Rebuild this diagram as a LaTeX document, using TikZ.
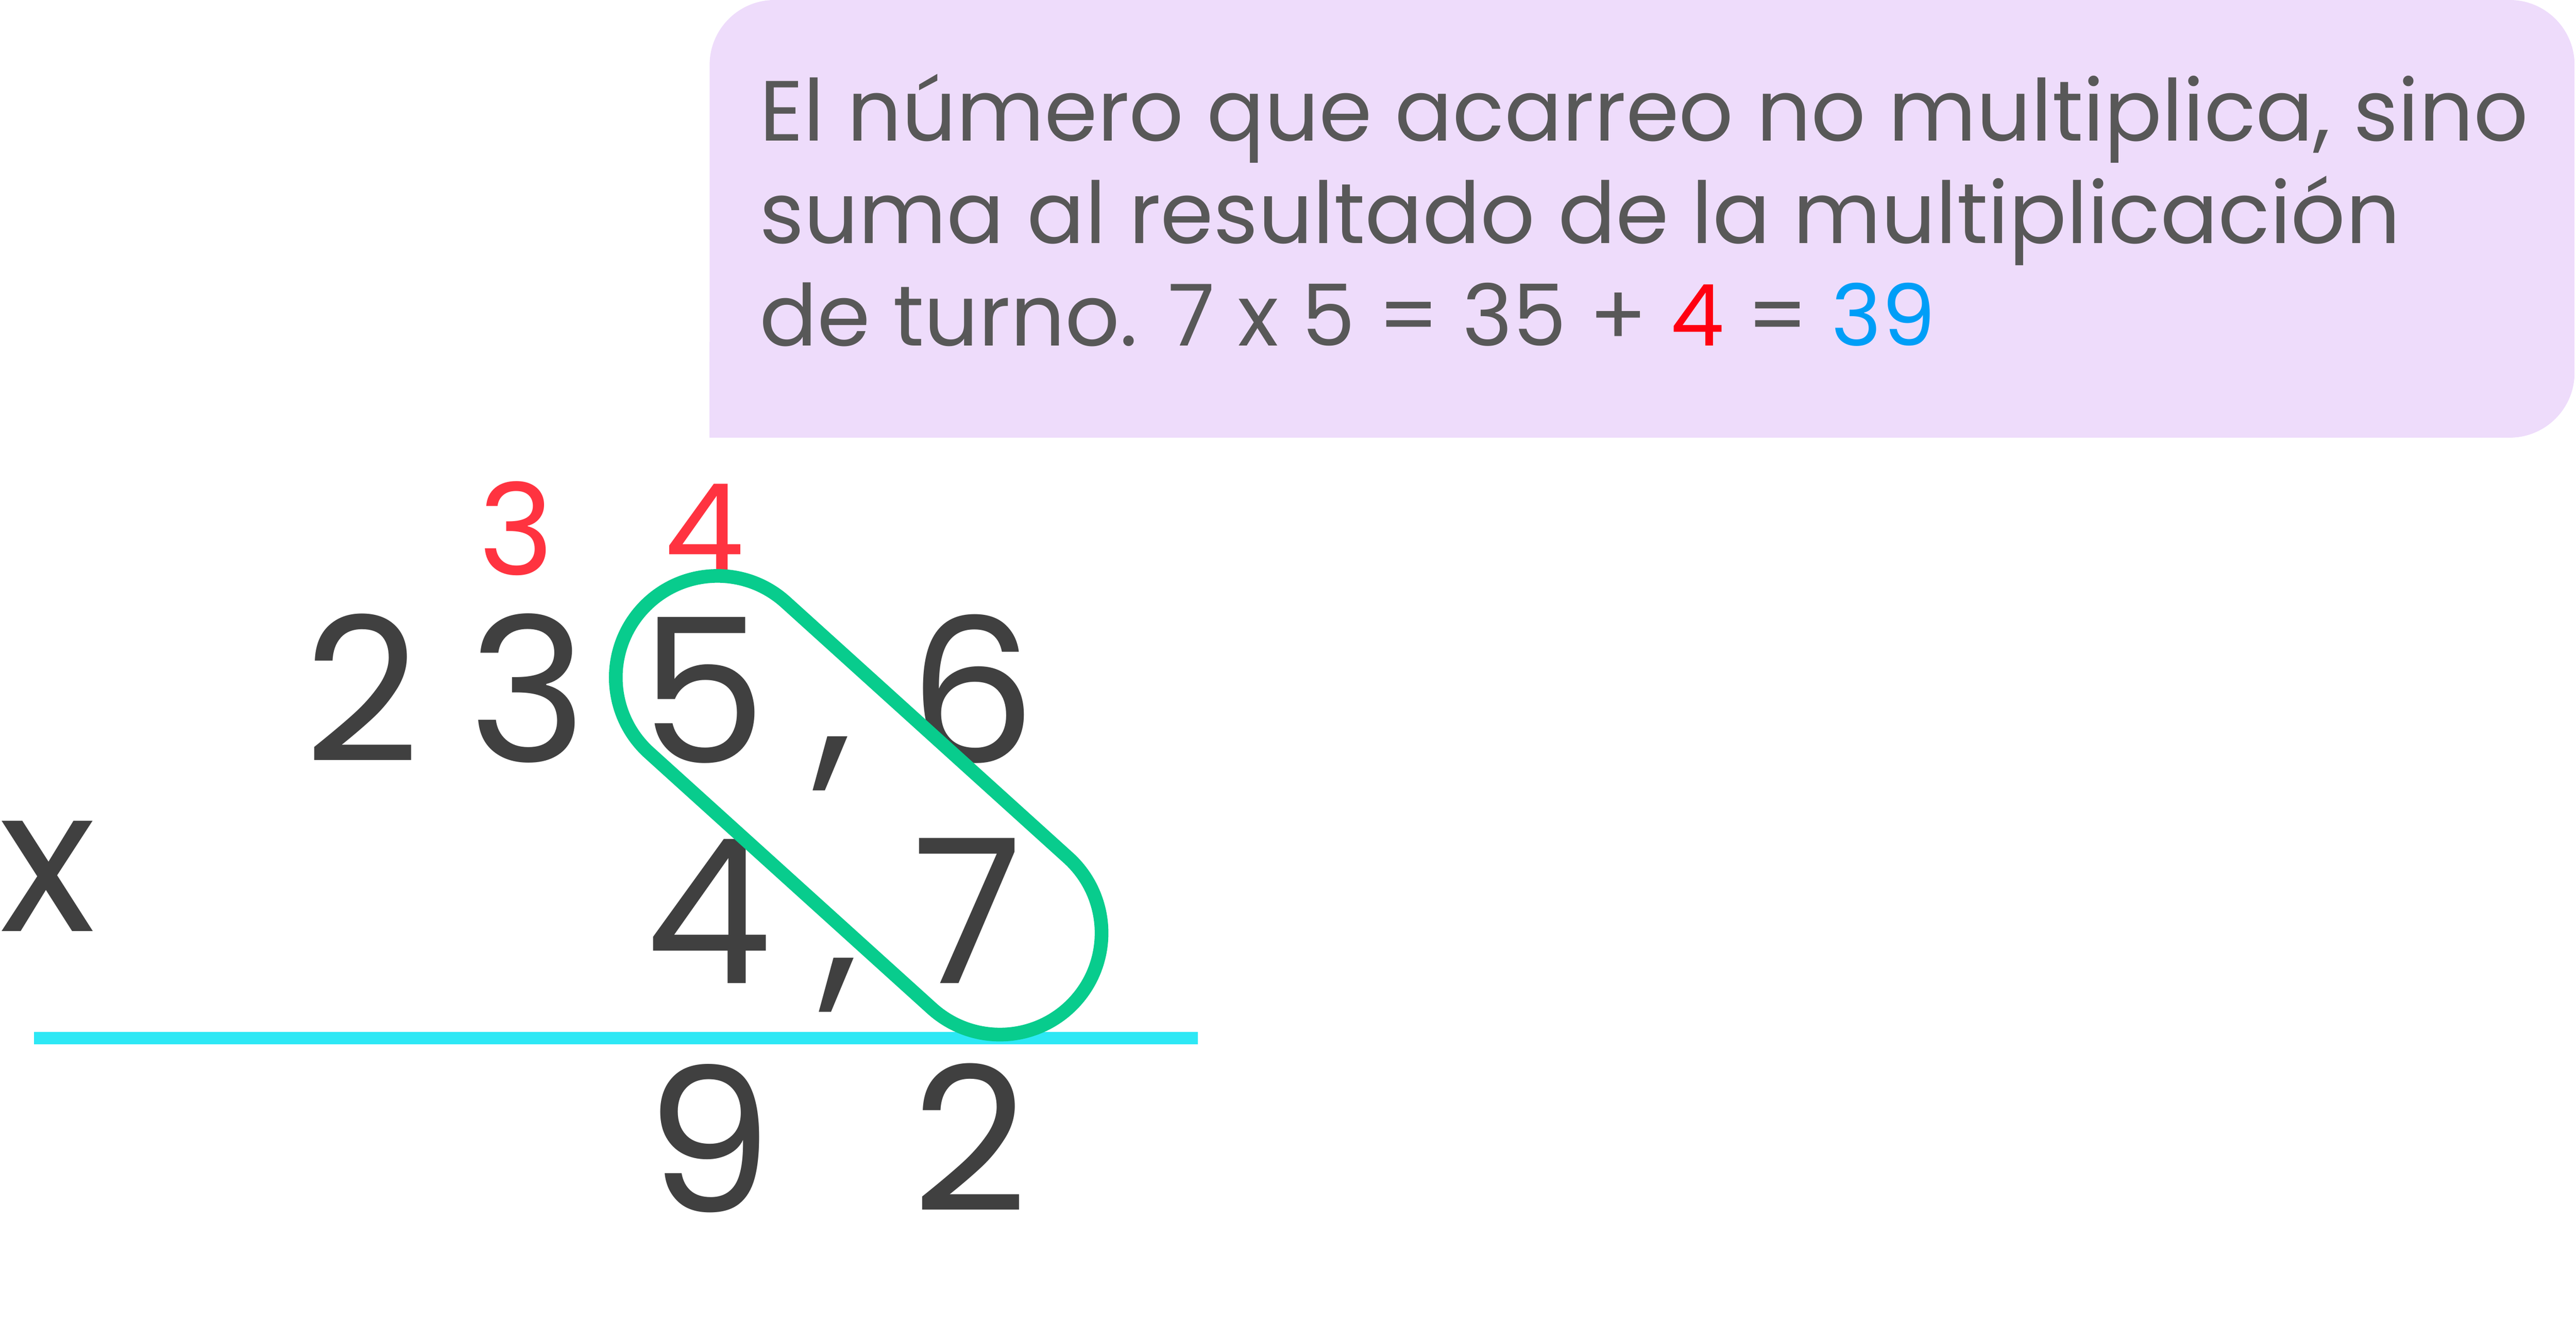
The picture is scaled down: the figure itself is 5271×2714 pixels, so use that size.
\documentclass[tikz,border=0pt]{standalone}
\usepackage{fontspec}
\setmainfont{Poppins}
\usetikzlibrary{calc}
\definecolor{boxpurple}{HTML}{EEDCFB}
\definecolor{boxtext}{HTML}{585858}
\definecolor{digitgray}{HTML}{404040}
\definecolor{carryred}{HTML}{FF3340}
\definecolor{textred}{HTML}{FF0010}
\definecolor{textblue}{HTML}{009EF7}
\definecolor{rulecyan}{HTML}{2DE8F5}
\definecolor{loopgreen}{HTML}{08CC8D}
\tikzset{
  boxline/.style={anchor=base west, inner sep=0pt, text=boxtext, font=\fontsize{17.48}{21}\selectfont},
  bigdigit/.style={anchor=base, inner sep=0pt, text=digitgray, font=\fontsize{41.2}{50}\selectfont},
  carry/.style={anchor=base, inner sep=0pt, text=carryred, font=\fontsize{26}{30}\selectfont},
}
\begin{document}
\begin{tikzpicture}[x=0.1pt,y=0.1pt]
\useasboundingbox (0,0) rectangle (5271,-2714);
% explanation box
\fill[boxpurple, rounded corners=13.3pt] (1452,-896) rectangle (5268,0);
\fill[boxpurple] (1452,-896) rectangle (1600,-700);
\node[boxline] (l1) at (1552,-288) {El número que acarreo no multiplica, sino};
\node[boxline] (l2) at (1552,-498) {suma al resultado de la multiplicación};
\node[boxline] (l3) at (1552,-708) {de turno. 7 x 5 = 35 + \textcolor{textred}{4} = \textcolor{textblue}{39}};
% carries
\node[carry] (c3) at (1056,-1177) {3};
\node[carry] (c4) at (1441,-1177) {4};
% first factor
\node[bigdigit] (d2) at (741,-1560) {2};
\node[bigdigit] (d3) at (1080,-1560) {3};
\node[bigdigit] (d5) at (1439,-1562) {5};
\node[bigdigit] (k1) at (1705,-1560) {,};
\node[bigdigit] (d6) at (1990,-1562) {6};
% second factor
\node[bigdigit] (times) at (97,-1906) {x};
\node[bigdigit] (e4) at (1450,-2013) {4};
\node[bigdigit] (k2) at (1717,-2013) {,};
\node[bigdigit] (e7) at (1980,-2013) {7};
% rule
\coordinate (rl) at (70,-2125);
\coordinate (rr) at (2451,-2125);
\draw[rulecyan, line width=2.5pt] (rl) -- (rr);
% result
\node[bigdigit] (r9) at (1451,-2482) {9};
\node[bigdigit] (r2) at (1985,-2480) {2};
% highlight loop
\coordinate (C1) at (1468,-1387);
\coordinate (C2) at (2046,-1910);
\draw[loopgreen, line width=2.8pt]
  ($(C1)+(47.86:208)$) -- ($(C2)+(47.86:208)$)
  arc[start angle=47.86, end angle=-132.14, radius=208]
  -- ($(C1)+(-132.14:208)$)
  arc[start angle=227.86, end angle=47.86, radius=208] -- cycle;
\end{tikzpicture}
\end{document}
